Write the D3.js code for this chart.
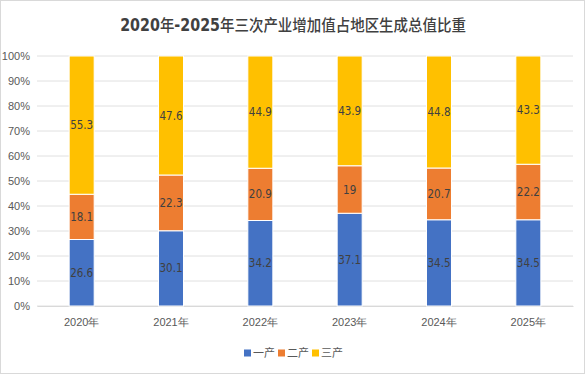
<!DOCTYPE html>
<html><head><meta charset="utf-8">
<script src="https://cdn.jsdelivr.net/npm/d3@7"></script>
<style>
body{margin:0;background:#fff;}
svg{display:block;font-family:"Liberation Sans Narrow","DejaVu Sans Condensed","Noto Sans CJK SC",sans-serif;}
</style></head><body>
<script>
const categories = ["2020年","2021年","2022年","2023年","2024年","2025年"];
const seriesNames = ["一产","二产","三产"];
const primary = [26.6,30.1,34.2,37.1,34.5,34.5];
const secondary = [18.1,22.3,20.9,19,20.7,22.2];
const tertiary = [55.3,47.6,44.9,43.9,44.8,43.3];
const yTicks = [0,10,20,30,40,50,60,70,80,90,100];
const colors = ["#4472C4","#ED7D31","#FFC000"];
const titleParts = [["2020","b"],["年","n"],["-2025","b"],["年三次产业增加值占地区生成总值比重","n"]];

const W=586,H=376;
const margin={left:37,right:13,top:56,bottom:70};
const svg=d3.select("body").append("svg").attr("width",W).attr("height",H);
svg.append("rect").attr("x",0.5).attr("y",0.5).attr("width",W-2).attr("height",H-3)
  .attr("fill","#fff").attr("stroke","#d9d9d9");

const title=svg.append("text").attr("x",0).attr("y",0).attr("text-anchor","middle")
  .attr("font-size",16).attr("fill","#404040");
titleParts.forEach(([t,w])=>{
  title.append("tspan").text(t)
    .attr("font-weight",w==="b"?"bold":"500")
    .attr("font-size",w==="b"?17:15.5)
    .attr("font-family",w==="b"?"'Liberation Sans Narrow','DejaVu Sans Condensed',sans-serif":"'Noto Sans CJK SC',sans-serif");
});
const tw=title.node().getComputedTextLength();
title.attr("transform",`translate(293,31) scale(${346/tw},1)`);

const x=d3.scaleBand().domain(categories).range([margin.left,W-margin.right]).paddingInner(0.72).paddingOuter(0.36);
const y=d3.scaleLinear().domain([0,100]).range([H-margin.bottom,margin.top]);

const g=svg.append("g");
g.selectAll("line.grid").data(yTicks).join("line").attr("class","grid")
  .attr("x1",margin.left).attr("x2",W-margin.right)
  .attr("y1",d=>y(d)).attr("y2",d=>y(d)).attr("stroke","#e0e0e0").attr("stroke-width",1);

const yAxis=d3.axisLeft(y).tickValues(yTicks).tickFormat(d=>d+"%").tickSize(0).tickPadding(7);
svg.append("g").attr("transform",`translate(${margin.left},0)`).call(yAxis)
  .call(a=>a.select(".domain").remove())
  .selectAll("text").attr("font-size",11).attr("fill","#595959");

const xAxis=d3.axisBottom(x).tickSize(0).tickPadding(12);
svg.append("g").attr("transform",`translate(0,${y(0)})`).call(xAxis)
  .call(a=>a.select(".domain").attr("stroke","#d9d9d9"))
  .selectAll("text").attr("font-size",11).attr("fill","#595959");

const rows=categories.map((c,i)=>({cat:c,"一产":primary[i],"二产":secondary[i],"三产":tertiary[i]}));
const stack=d3.stack().keys(seriesNames)(rows);

stack.forEach((s,si)=>{
  const sg=svg.append("g");
  sg.selectAll("rect").data(s).join("rect")
    .attr("x",d=>x(d.data.cat)).attr("width",x.bandwidth())
    .attr("y",d=>y(d[1])).attr("height",d=>y(d[0])-y(d[1]))
    .attr("fill",colors[si]).attr("stroke","#fff").attr("stroke-width",1);
  sg.selectAll("text").data(s).join("text")
    .attr("x",d=>x(d.data.cat)+x.bandwidth()/2)
    .attr("y",d=>(y(d[0])+y(d[1]))/2).attr("dy","0.35em")
    .attr("text-anchor","middle").attr("font-size",11.5).attr("fill","#404040")
    .text(d=>d.data[s.key]);
});

const legend=svg.append("g").attr("transform","translate(244,353)");
const lx=[0,34,68];
seriesNames.forEach((n,i)=>{
  legend.append("rect").attr("x",lx[i]).attr("y",-3.5).attr("width",7).attr("height",7).attr("fill",colors[i]);
  legend.append("text").attr("x",lx[i]+9).attr("y",0).attr("dy","0.35em")
    .attr("font-size",11).attr("fill","#595959").text(n);
});
</script>
</body></html>
